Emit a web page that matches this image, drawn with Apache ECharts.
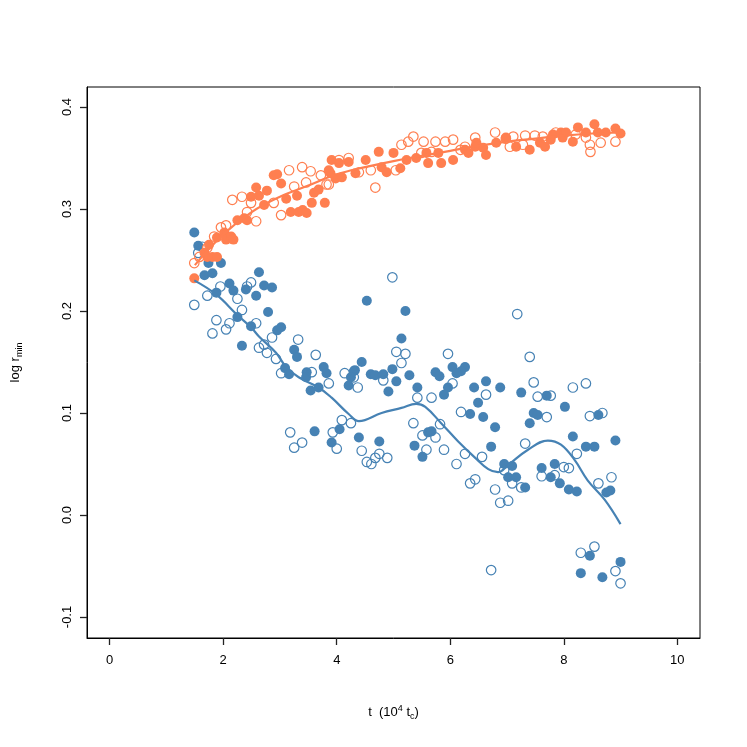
<!DOCTYPE html>
<html><head><meta charset="utf-8">
<script src="https://cdn.jsdelivr.net/npm/echarts@6/dist/echarts.min.js"></script>
<style>html,body{margin:0;padding:0;background:#fff}#c{width:747px;height:747px}</style>
</head><body><div id="c"></div>
<script>
// tick values
var xTicks = [0, 2, 4, 6, 8, 10];
var yTicks = [-0.1, 0.0, 0.1, 0.2, 0.3, 0.4];

// blue, filled circles [t, log r_min]
var blueFilled = [
[1.49,0.277],[1.56,0.264],[1.96,0.247],[1.74,0.247],[1.67,0.235],[1.81,0.237],[2.63,0.238],[2.11,0.227],
[2.18,0.220],[2.40,0.221],[2.58,0.215],[2.72,0.225],[2.86,0.223],[1.88,0.218],[2.79,0.199],[2.25,0.194],
[2.49,0.185],[2.95,0.181],[3.02,0.184],[2.33,0.166],[3.25,0.162],[3.30,0.155],[3.09,0.144],[3.16,0.138],
[3.47,0.140],[3.46,0.135],[3.77,0.145],[3.82,0.139],[3.68,0.125],[3.54,0.122],[4.25,0.135],[4.32,0.142],
[4.21,0.127],[4.53,0.210],[5.21,0.200],[5.14,0.173],[4.44,0.150],[4.30,0.141],[4.60,0.138],[4.68,0.137],
[4.82,0.138],[4.98,0.143],[5.05,0.131],[4.91,0.121],[5.28,0.137],[5.42,0.125],[5.74,0.140],[5.81,0.136],
[6.04,0.145],[6.26,0.145],[6.19,0.141],[6.11,0.139],[5.96,0.125],[5.89,0.118],[6.42,0.125],[6.63,0.131],
[6.88,0.125],[6.49,0.110],[6.35,0.099],[6.58,0.096],[6.79,0.086],[7.25,0.120],[4.39,0.076],[4.75,0.072],
[5.61,0.081],[5.67,0.082],[5.37,0.068],[5.51,0.057],[6.72,0.067],[6.95,0.050],[7.09,0.048],[7.02,0.037],
[7.16,0.037],[3.61,0.082],[3.91,0.071],[4.05,0.084],[7.70,0.117],[7.47,0.100],[7.54,0.098],[7.40,0.090],
[8.02,0.106],[8.61,0.098],[8.16,0.077],[8.39,0.067],[8.54,0.067],[8.91,0.073],[7.32,0.027],[7.61,0.046],
[7.77,0.037],[7.84,0.050],[7.93,0.031],[8.09,0.025],[8.23,0.023],[8.75,0.022],[8.82,0.024],[8.46,-0.040],
[8.30,-0.057],[8.68,-0.061],[9.00,-0.046]
];
// blue, open circles
var blueOpen = [
[7.18,0.197],[7.40,0.155],[7.47,0.130],[7.54,0.116],[7.77,0.117],[7.70,0.096],[8.16,0.125],[8.39,0.129],
[8.46,0.097],[8.68,0.100],[7.32,0.070],[8.23,0.060],[6.95,0.044],[7.09,0.031],[7.25,0.027],[7.61,0.038],
[7.84,0.039],[8.00,0.047],[8.09,0.046],[8.61,0.031],[8.84,0.037],[7.02,0.014],[6.88,0.012],[8.30,-0.037],
[8.54,-0.031],[8.91,-0.055],[9.00,-0.067],[6.72,-0.054],[4.98,0.233],[5.05,0.160],[5.21,0.158],[5.14,0.149],
[4.30,0.135],[4.37,0.125],[4.82,0.132],[5.96,0.158],[6.04,0.129],[5.42,0.115],[5.67,0.115],[6.63,0.118],
[6.19,0.101],[4.25,0.090],[5.35,0.090],[5.51,0.078],[5.82,0.089],[5.74,0.076],[4.44,0.063],[4.75,0.060],
[4.68,0.056],[4.53,0.052],[4.61,0.050],[4.89,0.056],[5.58,0.064],[5.89,0.064],[6.26,0.060],[6.56,0.057],
[6.11,0.050],[6.44,0.035],[6.35,0.031],[6.79,0.025],[3.18,0.081],[3.25,0.066],[3.39,0.071],[3.93,0.081],
[4.00,0.065],[4.09,0.093],[1.49,0.206],[1.72,0.215],[1.95,0.224],[2.49,0.228],[2.42,0.224],[2.25,0.212],
[1.88,0.191],[2.11,0.188],[2.05,0.182],[1.81,0.178],[2.33,0.201],[2.58,0.188],[2.63,0.164],[2.72,0.167],
[2.77,0.159],[2.86,0.174],[2.93,0.153],[3.32,0.172],[3.63,0.157],[3.02,0.139],[3.56,0.140],[3.86,0.129],
[4.14,0.139],[1.63,0.263],[1.56,0.257]
];
// blue smooth curve
var blueCurve = [
[1.49,0.230],[1.88,0.216],[2.25,0.196],[2.49,0.184],[2.63,0.175],[2.93,0.159],[3.11,0.145],[3.33,0.135],
[3.68,0.125],[3.91,0.115],[4.21,0.099],[4.39,0.092],[4.79,0.100],[5.14,0.105],[5.40,0.109],[5.56,0.106],
[5.84,0.090],[6.14,0.072],[6.44,0.056],[6.67,0.045],[6.84,0.042],[7.02,0.049],[7.37,0.064],[7.72,0.073],
[7.95,0.069],[8.19,0.054],[8.42,0.034],[8.72,0.015],[9.00,-0.009]
];
// orange, filled circles
var orangeFilled = [
[1.49,0.232],[1.67,0.257],[1.72,0.253],[1.81,0.253],[1.89,0.253],[1.75,0.265],[1.89,0.272],[2.02,0.277],
[2.05,0.270],[2.14,0.273],[2.18,0.270],[2.25,0.289],[2.37,0.291],[2.42,0.289],[2.49,0.312],[2.58,0.321],
[2.63,0.313],[2.72,0.304],[2.77,0.318],[2.89,0.333],[2.95,0.334],[3.02,0.325],[3.11,0.310],[3.19,0.297],
[3.30,0.313],[3.33,0.297],[3.40,0.299],[3.47,0.296],[3.56,0.306],[3.60,0.316],[3.68,0.319],[3.79,0.306],
[3.89,0.335],[3.86,0.338],[3.91,0.348],[3.98,0.330],[4.04,0.345],[4.09,0.331],[4.21,0.346],[4.33,0.335],
[4.51,0.348],[4.74,0.356],[4.79,0.341],[4.88,0.336],[5.00,0.355],[5.12,0.340],[5.23,0.348],[5.40,0.350],
[5.58,0.355],[5.61,0.345],[5.79,0.355],[5.84,0.345],[6.05,0.348],[6.26,0.358],[6.32,0.355],[6.44,0.361],
[6.46,0.365],[6.58,0.360],[6.63,0.353],[6.81,0.365],[6.98,0.370],[7.16,0.361],[7.40,0.358],[7.58,0.365],
[7.67,0.361],[7.77,0.368],[7.81,0.373],[7.95,0.375],[7.98,0.370],[8.04,0.375],[8.16,0.366],[8.25,0.380],
[8.39,0.375],[8.54,0.383],[8.60,0.375],[8.74,0.375],[8.91,0.379],[9.00,0.374]
];
// orange, open circles
var orangeOpen = [
[1.49,0.247],[1.58,0.253],[1.72,0.262],[1.84,0.273],[1.96,0.282],[2.05,0.284],[2.16,0.309],[2.33,0.312],
[2.42,0.297],[2.49,0.306],[2.58,0.288],[2.89,0.306],[3.02,0.294],[3.16,0.338],[3.25,0.322],[3.39,0.341],
[3.46,0.326],[3.54,0.337],[3.72,0.333],[3.82,0.324],[3.86,0.324],[4.04,0.348],[4.21,0.350],[4.39,0.336],
[4.60,0.338],[4.68,0.321],[5.04,0.338],[5.14,0.363],[5.26,0.366],[5.35,0.371],[5.49,0.355],[5.53,0.366],
[5.67,0.356],[5.74,0.366],[5.91,0.366],[6.05,0.368],[6.18,0.358],[6.26,0.361],[6.44,0.370],[6.79,0.375],
[6.98,0.369],[7.05,0.361],[7.11,0.371],[7.28,0.363],[7.32,0.372],[7.49,0.372],[7.63,0.371],[7.86,0.375],
[8.21,0.373],[8.39,0.370],[8.46,0.363],[8.47,0.356],[8.65,0.365],[8.91,0.366]
];
// orange smooth curve
var orangeCurve = [
[1.5,0.245],[2.0,0.275],[2.5,0.297],[3.0,0.312],[3.5,0.323],[4.0,0.334],[4.5,0.341],[5.0,0.347],
[5.5,0.352],[6.0,0.357],[6.5,0.362],[7.0,0.366],[7.5,0.369],[8.0,0.372],[8.5,0.374],[9.0,0.375]
];

var BLUE = '#4682B4', ORANGE = '#FF7F50';
var FONT = 'Liberation Sans, Arial, Helvetica, sans-serif';

var chart = echarts.init(document.getElementById('c'), null, {renderer: 'canvas'});
function filled(data, col) {
  return {type: 'scatter', data: data, symbol: 'circle', symbolSize: 10,
    itemStyle: {color: col, opacity: 1}, silent: true, animation: false};
}
function open(data, col) {
  return {type: 'scatter', data: data, symbol: 'circle', symbolSize: 9.5,
    itemStyle: {color: 'rgba(0,0,0,0)', borderColor: col, borderWidth: 1.2, opacity: 1}, silent: true, animation: false};
}
function curve(data, col) {
  return {type: 'line', data: data, smooth: 0.4, showSymbol: false, symbol: 'none',
    lineStyle: {color: col, width: 2.2}, silent: true, animation: false};
}
chart.setOption({
  animation: false,
  backgroundColor: '#fff',
  grid: {left: 87, top: 87, width: 613, height: 551, show: true, borderColor: '#000', borderWidth: 1,
    backgroundColor: 'transparent', outerBoundsMode: 'none'},
  xAxis: {
    type: 'value', min: -0.4, max: 10.4, position: 'bottom',
    axisLine: {show: true, onZero: false, lineStyle: {color: '#000', width: 1}},
    splitLine: {show: false},
    axisTick: {show: true, length: 7, lineStyle: {color: '#222', width: 1.3}, customValues: xTicks},
    axisLabel: {show: true, customValues: xTicks, margin: 16, color: '#000', fontSize: 13, fontFamily: FONT,
      formatter: function (v) { return String(v); }},
    name: 't  (10{sup|4} t{sub|c})',
    nameLocation: 'middle', nameGap: 66,
    nameTextStyle: {color: '#000', fontSize: 13, fontFamily: FONT,
      rich: {sup: {fontSize: 9, verticalAlign: 'top', padding: [0, 0, 8, 0], fontFamily: FONT, color: '#000'},
             sub: {fontSize: 9, padding: [8, 0, 0, 0], fontFamily: FONT, color: '#000'}}}
  },
  yAxis: {
    type: 'value', min: -0.1206, max: 0.4196, position: 'left',
    axisLine: {show: true, onZero: false, lineStyle: {color: '#000', width: 1}},
    splitLine: {show: false},
    axisTick: {show: true, length: 7, lineStyle: {color: '#222', width: 1.3}, customValues: yTicks},
    axisLabel: {show: true, customValues: yTicks, rotate: 90, margin: 13, color: '#000', fontSize: 13, fontFamily: FONT,
      formatter: function (v) { return (Math.round(v * 10) / 10).toFixed(1); }},
    name: 'log r{sub|min}',
    nameLocation: 'middle', nameGap: 63, nameRotate: 90,
    nameTextStyle: {color: '#000', fontSize: 13, fontFamily: FONT,
      rich: {sub: {fontSize: 9, padding: [8, 0, 0, 0], fontFamily: FONT, color: '#000'}}}
  },
  series: [
    filled(blueFilled, BLUE),
    open(blueOpen, BLUE),
    curve(blueCurve, BLUE),
    filled(orangeFilled, ORANGE),
    open(orangeOpen, ORANGE),
    curve(orangeCurve, ORANGE)
  ]
});
</script></body></html>
